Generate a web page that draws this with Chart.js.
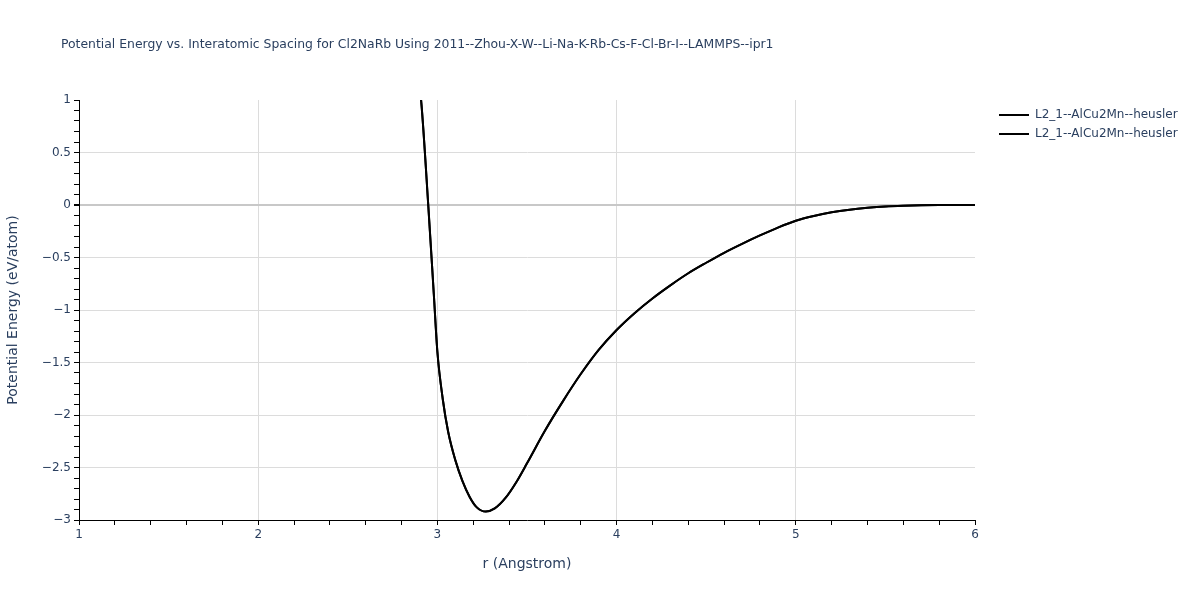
<!DOCTYPE html>
<html>
<head>
<meta charset="utf-8">
<script src="https://cdn.jsdelivr.net/npm/chart.js@4.4.1/dist/chart.umd.min.js"></script>
<style>
  html, body { margin: 0; padding: 0; background: #fff; }
  #wrap { width: 1200px; height: 600px; position: relative; }
</style>
</head>
<body>
<div id="wrap"><canvas id="energyChart" width="1200" height="600"></canvas></div>
<script>
const chartTitle = 'Potential Energy vs. Interatomic Spacing for Cl2NaRb Using 2011--Zhou-X-W--Li-Na-K-Rb-Cs-F-Cl-Br-I--LAMMPS--ipr1';
const seriesNames = ['L2_1--AlCu2Mn--heusler', 'L2_1--AlCu2Mn--heusler'];

// r (Angstrom) and energy (eV/atom)
const r_values = [2.88, 2.91, 2.95, 2.98, 3.0, 3.03, 3.06, 3.1, 3.14, 3.18, 3.22, 3.27, 3.32, 3.38, 3.44, 3.5,
  3.6, 3.7, 3.8, 3.9, 4.0, 4.1, 4.2, 4.3, 4.4, 4.5, 4.6, 4.7, 4.8, 4.9, 5.0, 5.1, 5.2, 5.3, 5.4, 5.5,
  5.6, 5.7, 5.8, 5.9, 6.0];
const energy_values = [1.4, 0.98, -0.03, -0.85, -1.4, -1.85, -2.16, -2.43, -2.63, -2.78, -2.88, -2.92, -2.89, -2.79, -2.64, -2.46,
  -2.15, -1.87, -1.61, -1.38, -1.19, -1.03, -0.89, -0.765, -0.65, -0.55, -0.455, -0.37, -0.29, -0.215, -0.15, -0.105, -0.07, -0.045, -0.027, -0.014,
  -0.007, -0.003, -0.001, 0, 0];

const x_ticks = [1, 2, 3, 4, 5, 6];
const y_ticks = [-3, -2.5, -2, -1.5, -1, -0.5, 0, 0.5, 1];

const textColor = '#2a3f5f';
const points = r_values.map((r, i) => ({ x: r, y: energy_values[i] }));

const isMajor = (v, list) => list.some(t => Math.abs(t - v) < 1e-6);
const fmt = v => String(Math.round(v * 10) / 10).replace('-', '\u2212');

// title and legend drawn at fixed places
const overlay = {
  id: 'overlay',
  afterDraw(chart) {
    const c = chart.ctx;
    c.save();
    c.fillStyle = textColor;
    c.textBaseline = 'middle';
    c.textAlign = 'left';
    c.font = '12.4px "DejaVu Sans", Verdana, sans-serif';
    c.fillText(chartTitle, 61, 45);
    c.font = '12px "DejaVu Sans", Verdana, sans-serif';
    seriesNames.forEach((name, i) => {
      const y = 115 + i * 19;
      c.strokeStyle = '#000';
      c.lineWidth = 2;
      c.beginPath();
      c.moveTo(999, y);
      c.lineTo(1029, y);
      c.stroke();
      c.fillText(name, 1035, y);
    });
    c.restore();
  }
};

new Chart(document.getElementById('energyChart'), {
  type: 'line',
  data: {
    datasets: seriesNames.map(name => ({
      label: name,
      data: points,
      borderColor: '#000',
      borderWidth: 2,
      pointRadius: 0,
      cubicInterpolationMode: 'monotone',
      fill: false
    }))
  },
  options: {
    responsive: false,
    animation: false,
    layout: { padding: { left: 0, right: 225, top: 100, bottom: 0 } },
    plugins: { legend: { display: false }, title: { display: false }, tooltip: { enabled: false } },
    scales: {
      x: {
        type: 'linear',
        min: 1, max: 6,
        afterFit: s => { s.height = 80; },
        afterBuildTicks: s => {
          const t = [];
          for (let i = 0; i <= 25; i++) t.push({ value: 1 + i * 0.2 });
          s.ticks = t;
        },
        ticks: {
          autoSkip: false, maxRotation: 0, padding: 3,
          color: textColor,
          font: { family: '"DejaVu Sans", Verdana, sans-serif', size: 12 },
          callback: v => isMajor(v, x_ticks) ? fmt(v) : ''
        },
        grid: {
          color: c => {
            if (!c.tick) return 'rgba(0,0,0,0)';
            const v = c.tick.value;
            return (isMajor(v, x_ticks) && v < 5.99) ? '#dcdcdc' : 'rgba(0,0,0,0)';
          },
          tickColor: '#000', tickLength: 5, drawTicks: true
        },
        border: { color: '#000', width: 1 },
        title: {
          display: true, text: 'r (Angstrom)', color: textColor,
          font: { family: '"DejaVu Sans", Verdana, sans-serif', size: 14 },
          padding: { top: 4, bottom: 27 }
        }
      },
      y: {
        type: 'linear',
        min: -3, max: 1,
        afterFit: s => { s.width = 79; },
        afterBuildTicks: s => {
          const t = [];
          for (let i = 0; i <= 40; i++) t.push({ value: -3 + i * 0.1 });
          s.ticks = t;
        },
        ticks: {
          autoSkip: false, padding: 3,
          color: textColor,
          font: { family: '"DejaVu Sans", Verdana, sans-serif', size: 12 },
          callback: v => isMajor(v, y_ticks) ? fmt(v) : ''
        },
        grid: {
          color: c => {
            if (!c.tick) return 'rgba(0,0,0,0)';
            const v = c.tick.value;
            if (Math.abs(v) < 1e-6) return '#c8c8c8';
            return (isMajor(v, y_ticks) && v < 0.99) ? '#dcdcdc' : 'rgba(0,0,0,0)';
          },
          lineWidth: c => (c.tick && Math.abs(c.tick.value) < 1e-6) ? 2 : 1,
          tickColor: '#000', tickLength: 5, drawTicks: true
        },
        border: { color: '#000', width: 1 },
        title: {
          display: true, text: 'Potential Energy (eV/atom)', color: textColor,
          font: { family: '"DejaVu Sans", Verdana, sans-serif', size: 14 },
          padding: { top: 5, bottom: 0 }
        }
      }
    }
  },
  plugins: [overlay]
});
</script>
</body>
</html>
